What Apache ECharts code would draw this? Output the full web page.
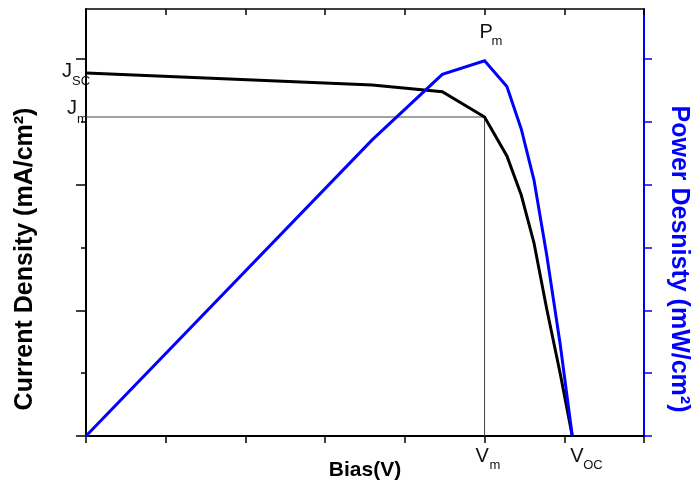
<!DOCTYPE html>
<html>
<head>
<meta charset="utf-8">
<script src="https://cdn.jsdelivr.net/npm/echarts@6/dist/echarts.min.js"></script>
<style>
  html, body { margin: 0; padding: 0; background: #ffffff; }
  #chart { width: 691px; height: 485px; }
</style>
</head>
<body>
<div id="chart"></div>
<script>
// Bias voltage (V) of each measured point
const bias = [0, 0.359, 0.447, 0.50, 0.528, 0.546, 0.562, 0.578, 0.595, 0.61];
// Current density (mA/cm2) at each bias
const currentDensity = [28.9, 27.95, 27.42, 25.4, 22.3, 19.19, 15.37, 10.11, 4.94, 0];
// Power density (mW/cm2) at each bias
const powerDensity = [0, 9.43, 11.52, 11.95, 11.13, 9.78, 8.15, 5.76, 2.90, 0];
// Index of the maximum power point (Vm, Jm, Pm)
const mppIndex = 3;

// Axis ranges and tick positions
const biasRange = [0, 0.7];
const biasInterval = 0.1;
const currentRange = [0, 34];
const currentTicks = [0, 10, 20, 30];
const currentMinorTicks = [5, 15, 25];
const powerRange = [0, 13.6];
const powerTicks = [0, 2, 4, 6, 8, 10, 12];

const FONT = '"Liberation Sans", Arial, Helvetica, sans-serif';
const BLUE = '#0000ff';

const chart = echarts.init(document.getElementById('chart'), null, { renderer: 'canvas' });

const pairs = (xs, ys) => xs.map((x, i) => [x, ys[i]]);
const vm = bias[mppIndex];
const jm = currentDensity[mppIndex];

function hiddenLabels() { return { show: false }; }

chart.setOption({
  animation: false,
  backgroundColor: '#ffffff',
  grid: { left: 86, right: 47, top: 9, bottom: 49, containLabel: false },
  xAxis: [
    {
      type: 'value', position: 'bottom', min: biasRange[0], max: biasRange[1], interval: biasInterval,
      axisLine: { onZero: false, lineStyle: { color: '#000', width: 2 } },
      axisTick: { inside: false, length: 7, lineStyle: { color: '#000', width: 1.5 } },
      axisLabel: hiddenLabels(), splitLine: { show: false }
    },
    {
      type: 'value', position: 'top', min: biasRange[0], max: biasRange[1], interval: biasInterval,
      axisLine: { onZero: false, lineStyle: { color: '#000', width: 1.5 } },
      axisTick: { inside: true, length: 6, lineStyle: { color: '#000', width: 1.5 } },
      axisLabel: hiddenLabels(), splitLine: { show: false }
    }
  ],
  yAxis: [
    {
      type: 'value', position: 'left', min: currentRange[0], max: currentRange[1],
      axisLine: { onZero: false, lineStyle: { color: '#000', width: 2 } },
      axisTick: { inside: false, length: 10, customValues: currentTicks, lineStyle: { color: '#000', width: 1.5 } },
      axisLabel: hiddenLabels(), splitLine: { show: false }
    },
    {
      type: 'value', position: 'right', min: powerRange[0], max: powerRange[1],
      axisLine: { onZero: false, lineStyle: { color: BLUE, width: 2 } },
      axisTick: { inside: false, length: 8, customValues: powerTicks, lineStyle: { color: BLUE, width: 1.5 } },
      axisLabel: hiddenLabels(), splitLine: { show: false }
    },
    {
      // minor ticks of the current-density axis
      type: 'value', position: 'left', min: currentRange[0], max: currentRange[1],
      axisLine: { show: false, onZero: false },
      axisTick: { inside: false, length: 5, customValues: currentMinorTicks, lineStyle: { color: '#000', width: 1.5 } },
      axisLabel: hiddenLabels(), splitLine: { show: false }
    }
  ],
  series: [
    {
      // guide lines from Jm across to the maximum power point and down to Vm
      type: 'line', xAxisIndex: 0, yAxisIndex: 0, z: 1,
      data: [[biasRange[0], jm], [vm, jm], [vm, currentRange[0]]],
      showSymbol: false, silent: true,
      lineStyle: { color: '#444', width: 1 }
    },
    {
      name: 'Current Density', type: 'line', xAxisIndex: 0, yAxisIndex: 0, z: 2,
      data: pairs(bias, currentDensity),
      showSymbol: false, smooth: false,
      lineStyle: { color: '#000', width: 3, join: 'miter' }
    },
    {
      name: 'Power Density', type: 'line', xAxisIndex: 0, yAxisIndex: 1, z: 3,
      data: pairs(bias, powerDensity),
      showSymbol: false, smooth: false,
      lineStyle: { color: BLUE, width: 3, join: 'miter' }
    }
  ]
});

// Text placed by its left edge and baseline
function textAt(str, left, baseline, size, opts) {
  opts = opts || {};
  return {
    type: 'text', x: left, y: baseline - 0.33 * size, z: 100,
    style: {
      text: str, fill: opts.color || '#111', fontSize: size, fontFamily: FONT,
      fontWeight: opts.bold ? 'bold' : 'normal',
      align: opts.align || 'left', verticalAlign: 'middle'
    }
  };
}
function titleAt(str, cx, cy, rotation, size, color) {
  return {
    type: 'text', x: cx, y: cy, rotation: rotation, z: 100,
    style: {
      text: str, fill: color, fontSize: size, fontFamily: FONT, fontWeight: 'bold',
      align: 'center', verticalAlign: 'middle'
    }
  };
}

const toJ = (x, y) => chart.convertToPixel({ xAxisIndex: 0, yAxisIndex: 0 }, [x, y]);
const toP = (x, y) => chart.convertToPixel({ xAxisIndex: 0, yAxisIndex: 1 }, [x, y]);

const jscPt = toJ(bias[0], currentDensity[0]);
const jmPt = toJ(bias[0], jm);
const pmPt = toP(vm, powerDensity[mppIndex]);
const vmPt = toJ(vm, currentRange[0]);
const vocPt = toJ(bias[bias.length - 1], currentRange[0]);
const LETTER = 20, SUB = 13;

chart.setOption({
  graphic: [
    textAt('J', jscPt[0] - 24, jscPt[1] + 5, LETTER),
    textAt('SC', jscPt[0] - 14, jscPt[1] + 13, SUB),
    textAt('J', jmPt[0] - 19, jmPt[1] - 2, LETTER),
    textAt('m', jmPt[0] - 9, jmPt[1] + 7, SUB),
    textAt('P', pmPt[0] - 5, pmPt[1] - 22, LETTER),
    textAt('m', pmPt[0] + 7, pmPt[1] - 15, SUB),
    textAt('V', vmPt[0] - 9, vmPt[1] + 27, LETTER),
    textAt('m', vmPt[0] + 5, vmPt[1] + 34, SUB),
    textAt('V', vocPt[0] - 2, vocPt[1] + 27, LETTER),
    textAt('OC', vocPt[0] + 11, vocPt[1] + 34, SUB),
    textAt('Bias(V)', 365, 477, 21, { bold: true, align: 'center', color: '#000' }),
    titleAt('Current Density (mA/cm\u00B2)', 25, 259, Math.PI / 2, 25, '#000'),
    titleAt('Power Desnisty (mW/cm\u00B2)', 679, 259, -Math.PI / 2, 25, BLUE)
  ]
});
</script>
</body>
</html>
